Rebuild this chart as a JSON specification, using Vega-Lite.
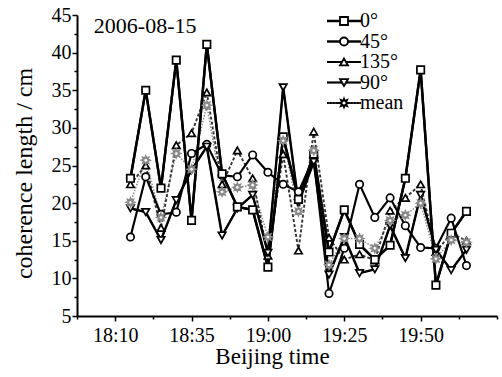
{
  "$schema": "https://vega.github.io/schema/vega-lite/v6.json",
  "width": 420,
  "height": 301,
  "autosize": {"type": "none"},
  "padding": {"left": 77, "top": 15, "right": 5, "bottom": 61},
  "background": "white",
  "config": {
    "view": {"stroke": null},
    "font": "Liberation Serif",
    "axis": {
      "labelFont": "Liberation Serif",
      "titleFont": "Liberation Serif",
      "labelColor": "black",
      "titleColor": "black",
      "domainColor": "black",
      "tickColor": "black",
      "titleFontWeight": "normal",
      "grid": false
    }
  },
  "datasets": {
    "coh": [
      {"t": "2006-08-15 18:15", "s": "mean", "v": 20.1},
      {"t": "2006-08-15 18:20", "s": "mean", "v": 25.7},
      {"t": "2006-08-15 18:25", "s": "mean", "v": 18.1},
      {"t": "2006-08-15 18:30", "s": "mean", "v": 26.6},
      {"t": "2006-08-15 18:35", "s": "mean", "v": 24.5},
      {"t": "2006-08-15 18:40", "s": "mean", "v": 33.0},
      {"t": "2006-08-15 18:45", "s": "mean", "v": 21.5},
      {"t": "2006-08-15 18:50", "s": "mean", "v": 22.1},
      {"t": "2006-08-15 18:55", "s": "mean", "v": 22.4},
      {"t": "2006-08-15 19:00", "s": "mean", "v": 15.5},
      {"t": "2006-08-15 19:05", "s": "mean", "v": 28.3},
      {"t": "2006-08-15 19:10", "s": "mean", "v": 18.9},
      {"t": "2006-08-15 19:15", "s": "mean", "v": 27.0},
      {"t": "2006-08-15 19:20", "s": "mean", "v": 11.8},
      {"t": "2006-08-15 19:25", "s": "mean", "v": 15.3},
      {"t": "2006-08-15 19:30", "s": "mean", "v": 15.3},
      {"t": "2006-08-15 19:35", "s": "mean", "v": 14.0},
      {"t": "2006-08-15 19:40", "s": "mean", "v": 17.7},
      {"t": "2006-08-15 19:45", "s": "mean", "v": 18.4},
      {"t": "2006-08-15 19:50", "s": "mean", "v": 20.0},
      {"t": "2006-08-15 19:55", "s": "mean", "v": 12.6},
      {"t": "2006-08-15 20:00", "s": "mean", "v": 15.1},
      {"t": "2006-08-15 20:05", "s": "mean", "v": 14.8},
      {"t": "2006-08-15 18:15", "s": "135°", "v": 22.5},
      {"t": "2006-08-15 18:20", "s": "135°", "v": 25.0},
      {"t": "2006-08-15 18:25", "s": "135°", "v": 16.7},
      {"t": "2006-08-15 18:30", "s": "135°", "v": 27.7},
      {"t": "2006-08-15 18:35", "s": "135°", "v": 29.3},
      {"t": "2006-08-15 18:40", "s": "135°", "v": 34.7},
      {"t": "2006-08-15 18:45", "s": "135°", "v": 22.5},
      {"t": "2006-08-15 18:50", "s": "135°", "v": 27.0},
      {"t": "2006-08-15 18:55", "s": "135°", "v": 23.3},
      {"t": "2006-08-15 19:00", "s": "135°", "v": 13.0},
      {"t": "2006-08-15 19:05", "s": "135°", "v": 26.5},
      {"t": "2006-08-15 19:10", "s": "135°", "v": 13.7},
      {"t": "2006-08-15 19:15", "s": "135°", "v": 29.5},
      {"t": "2006-08-15 19:20", "s": "135°", "v": 15.4},
      {"t": "2006-08-15 19:25", "s": "135°", "v": 12.5},
      {"t": "2006-08-15 19:30", "s": "135°", "v": 13.2},
      {"t": "2006-08-15 19:35", "s": "135°", "v": 12.4},
      {"t": "2006-08-15 19:40", "s": "135°", "v": 19.0},
      {"t": "2006-08-15 19:45", "s": "135°", "v": 20.7},
      {"t": "2006-08-15 19:50", "s": "135°", "v": 22.5},
      {"t": "2006-08-15 19:55", "s": "135°", "v": 13.5},
      {"t": "2006-08-15 20:00", "s": "135°", "v": 16.0},
      {"t": "2006-08-15 20:05", "s": "135°", "v": 15.0},
      {"t": "2006-08-15 18:15", "s": "45°", "v": 15.5},
      {"t": "2006-08-15 18:20", "s": "45°", "v": 23.5},
      {"t": "2006-08-15 18:25", "s": "45°", "v": 18.5},
      {"t": "2006-08-15 18:30", "s": "45°", "v": 18.8},
      {"t": "2006-08-15 18:35", "s": "45°", "v": 26.6},
      {"t": "2006-08-15 18:40", "s": "45°", "v": 27.8},
      {"t": "2006-08-15 18:45", "s": "45°", "v": 23.7},
      {"t": "2006-08-15 18:50", "s": "45°", "v": 23.5},
      {"t": "2006-08-15 18:55", "s": "45°", "v": 26.4},
      {"t": "2006-08-15 19:00", "s": "45°", "v": 24.1},
      {"t": "2006-08-15 19:05", "s": "45°", "v": 22.5},
      {"t": "2006-08-15 19:10", "s": "45°", "v": 21.5},
      {"t": "2006-08-15 19:15", "s": "45°", "v": 26.0},
      {"t": "2006-08-15 19:20", "s": "45°", "v": 8.0},
      {"t": "2006-08-15 19:25", "s": "45°", "v": 14.0},
      {"t": "2006-08-15 19:30", "s": "45°", "v": 22.5},
      {"t": "2006-08-15 19:35", "s": "45°", "v": 18.1},
      {"t": "2006-08-15 19:40", "s": "45°", "v": 20.7},
      {"t": "2006-08-15 19:45", "s": "45°", "v": 17.0},
      {"t": "2006-08-15 19:50", "s": "45°", "v": 14.1},
      {"t": "2006-08-15 19:55", "s": "45°", "v": 14.0},
      {"t": "2006-08-15 20:00", "s": "45°", "v": 18.0},
      {"t": "2006-08-15 20:05", "s": "45°", "v": 11.7},
      {"t": "2006-08-15 18:15", "s": "90°", "v": 19.3},
      {"t": "2006-08-15 18:20", "s": "90°", "v": 18.8},
      {"t": "2006-08-15 18:25", "s": "90°", "v": 15.1},
      {"t": "2006-08-15 18:30", "s": "90°", "v": 20.4},
      {"t": "2006-08-15 18:35", "s": "90°", "v": 24.4},
      {"t": "2006-08-15 18:40", "s": "90°", "v": 27.5},
      {"t": "2006-08-15 18:45", "s": "90°", "v": 15.7},
      {"t": "2006-08-15 18:50", "s": "90°", "v": 19.3},
      {"t": "2006-08-15 18:55", "s": "90°", "v": 21.1},
      {"t": "2006-08-15 19:00", "s": "90°", "v": 13.4},
      {"t": "2006-08-15 19:05", "s": "90°", "v": 35.4},
      {"t": "2006-08-15 19:10", "s": "90°", "v": 20.0},
      {"t": "2006-08-15 19:15", "s": "90°", "v": 25.5},
      {"t": "2006-08-15 19:20", "s": "90°", "v": 10.5},
      {"t": "2006-08-15 19:25", "s": "90°", "v": 15.5},
      {"t": "2006-08-15 19:30", "s": "90°", "v": 10.7},
      {"t": "2006-08-15 19:35", "s": "90°", "v": 11.2},
      {"t": "2006-08-15 19:40", "s": "90°", "v": 17.0},
      {"t": "2006-08-15 19:45", "s": "90°", "v": 12.7},
      {"t": "2006-08-15 19:50", "s": "90°", "v": 21.1},
      {"t": "2006-08-15 19:55", "s": "90°", "v": 13.8},
      {"t": "2006-08-15 20:00", "s": "90°", "v": 11.1},
      {"t": "2006-08-15 20:05", "s": "90°", "v": 13.8},
      {"t": "2006-08-15 18:15", "s": "0°", "v": 23.3},
      {"t": "2006-08-15 18:20", "s": "0°", "v": 35.0},
      {"t": "2006-08-15 18:25", "s": "0°", "v": 22.0},
      {"t": "2006-08-15 18:30", "s": "0°", "v": 39.0},
      {"t": "2006-08-15 18:35", "s": "0°", "v": 17.7},
      {"t": "2006-08-15 18:40", "s": "0°", "v": 41.1},
      {"t": "2006-08-15 18:45", "s": "0°", "v": 23.9},
      {"t": "2006-08-15 18:50", "s": "0°", "v": 19.5},
      {"t": "2006-08-15 18:55", "s": "0°", "v": 19.1},
      {"t": "2006-08-15 19:00", "s": "0°", "v": 11.5},
      {"t": "2006-08-15 19:05", "s": "0°", "v": 28.8},
      {"t": "2006-08-15 19:10", "s": "0°", "v": 20.5},
      {"t": "2006-08-15 19:15", "s": "0°", "v": 26.5},
      {"t": "2006-08-15 19:20", "s": "0°", "v": 13.5},
      {"t": "2006-08-15 19:25", "s": "0°", "v": 19.1},
      {"t": "2006-08-15 19:30", "s": "0°", "v": 14.5},
      {"t": "2006-08-15 19:35", "s": "0°", "v": 12.5},
      {"t": "2006-08-15 19:40", "s": "0°", "v": 14.4},
      {"t": "2006-08-15 19:45", "s": "0°", "v": 23.3},
      {"t": "2006-08-15 19:50", "s": "0°", "v": 37.7},
      {"t": "2006-08-15 19:55", "s": "0°", "v": 9.1},
      {"t": "2006-08-15 20:00", "s": "0°", "v": 16.0},
      {"t": "2006-08-15 20:05", "s": "0°", "v": 18.9}
    ],
    "note": [{"label": "2006-08-15"}]
  },
  "data": {"name": "coh"},
  "resolve": {"axis": {"x": "independent", "y": "independent"}},
  "layer": [
    {
      "mark": {"type": "line"},
      "encoding": {
        "x": {
          "field": "t", "type": "temporal",
          "scale": {"domain": [
            {"year": 2006, "month": 8, "date": 15, "hours": 17, "minutes": 57, "seconds": 30},
            {"year": 2006, "month": 8, "date": 15, "hours": 20, "minutes": 15}
          ], "nice": false},
          "axis": {
            "orient": "bottom",
            "values": [
              {"year": 2006, "month": 8, "date": 15, "hours": 18, "minutes": 10},
              {"year": 2006, "month": 8, "date": 15, "hours": 18, "minutes": 35},
              {"year": 2006, "month": 8, "date": 15, "hours": 19, "minutes": 0},
              {"year": 2006, "month": 8, "date": 15, "hours": 19, "minutes": 25},
              {"year": 2006, "month": 8, "date": 15, "hours": 19, "minutes": 50}
            ],
            "format": "%H:%M",
            "labelFontSize": 20,
            "labelPadding": 4,
            "tickSize": 5,
            "tickWidth": 1.5,
            "domainWidth": 2,
            "title": "Beijing time",
            "titleFontSize": 23,
            "titlePadding": 0,
            "titleX": 195
          }
        },
        "y": {
          "field": "v", "type": "quantitative",
          "scale": {"domain": [5, 45], "nice": false, "zero": false},
          "axis": {
            "orient": "left",
            "values": [5, 10, 15, 20, 25, 30, 35, 40, 45],
            "labelFontSize": 20,
            "labelPadding": 1,
            "tickSize": 5,
            "tickWidth": 1.5,
            "domainWidth": 2,
            "title": "coherence length / cm",
            "titleFontSize": 24,
            "titlePadding": 15,
            "titleY": 158
          }
        },
        "color": {
          "field": "s", "type": "nominal",
          "sort": ["0°", "45°", "135°", "90°", "mean"],
          "scale": {"range": ["#000000", "#000000", "#333333", "#000000", "#888888"]},
          "legend": {"orient": "none", "legendX": 257, "legendY": -4, "title": null, "padding": 0, "labelFont": "Liberation Serif", "labelFontSize": 20, "labelOpacity": 0, "labelOffset": 6, "rowPadding": 0.5, "symbolType": "M-4.25,0H4.25", "symbolSize": 64, "symbolStrokeColor": "black"}
        },
        "strokeWidth": {
          "field": "s", "type": "nominal",
          "sort": ["0°", "45°", "135°", "90°", "mean"],
          "scale": {"range": [2.4, 1.4, 1.1, 2.4, 1.1]},
          "legend": {"orient": "none", "legendX": 257, "legendY": -4, "title": null, "padding": 0, "labelFont": "Liberation Serif", "labelFontSize": 20, "labelOpacity": 0, "labelOffset": 6, "rowPadding": 0.5, "symbolType": "M-4.25,0H4.25", "symbolSize": 64, "symbolStrokeColor": "black"}
        },
        "strokeDash": {
          "field": "s", "type": "nominal",
          "sort": ["0°", "45°", "135°", "90°", "mean"],
          "scale": {"range": [[1, 0], [1, 0], [3, 2], [1, 0], [1.5, 1.5]]},
          "legend": {"orient": "none", "legendX": 257, "legendY": -4, "title": null, "padding": 0, "labelFont": "Liberation Serif", "labelFontSize": 20, "labelOpacity": 0, "labelOffset": 6, "rowPadding": 0.5, "symbolType": "M-4.25,0H4.25", "symbolSize": 64, "symbolStrokeColor": "black"}
        }
      }
    },
    {
      "transform": [{"filter": "datum.s === '90°'"}],
      "mark": {"type": "line", "stroke": "#000000", "strokeWidth": 2.4},
      "encoding": {
        "x": {"field": "t", "type": "temporal", "axis": null},
        "y": {"field": "v", "type": "quantitative", "axis": null}
      }
    },
    {
      "transform": [{"filter": "datum.s === '0°'"}],
      "mark": {"type": "line", "stroke": "#000000", "strokeWidth": 2.4},
      "encoding": {
        "x": {"field": "t", "type": "temporal", "axis": null},
        "y": {"field": "v", "type": "quantitative", "axis": null}
      }
    },
    {
      "transform": [{"filter": "datum.s !== 'mean'"}],
      "mark": {"type": "point", "filled": false, "fill": "white", "stroke": "black", "size": 55, "strokeWidth": 1.7, "opacity": 1},
      "encoding": {
        "x": {"field": "t", "type": "temporal", "axis": null},
        "y": {"field": "v", "type": "quantitative", "axis": null},
        "shape": {
          "field": "s", "type": "nominal",
          "scale": {
            "domain": ["0°", "45°", "135°", "90°", "mean"],
            "range": ["square", "circle", "triangle-up", "triangle-down", "M1.1,0L0.554,0.23L0.778,0.778L0.23,0.554L0,1.1L-0.23,0.554L-0.778,0.778L-0.554,0.23L-1.1,0L-0.554,-0.23L-0.778,-0.778L-0.23,-0.554L0,-1.1L0.23,-0.554L0.778,-0.778L0.554,-0.23Z"]
          },
          "legend": {"orient": "none", "legendX": 257, "legendY": -4, "title": null, "padding": 0, "labelFont": "Liberation Serif", "labelFontSize": 20, "labelColor": "black", "labelOffset": 6, "rowPadding": 0.5, "symbolSize": 64, "symbolStrokeWidth": 1.8, "symbolFillColor": "white"}
        }
      }
    },
    {
      "transform": [{"filter": "datum.s === 'mean'"}],
      "mark": {"type": "point", "filled": false, "fill": "white", "stroke": "#888888", "size": 55, "strokeWidth": 1.7, "opacity": 1},
      "encoding": {
        "x": {"field": "t", "type": "temporal", "axis": null},
        "y": {"field": "v", "type": "quantitative", "axis": null},
        "shape": {
          "field": "s", "type": "nominal",
          "legend": {"orient": "none", "legendX": 257, "legendY": -4, "title": null, "padding": 0, "labelFont": "Liberation Serif", "labelFontSize": 20, "labelColor": "black", "labelOffset": 6, "rowPadding": 0.5, "symbolSize": 64, "symbolStrokeWidth": 1.8, "symbolFillColor": "white"}
        }
      }
    },
    {
      "mark": {"type": "point", "opacity": 0},
      "encoding": {
        "x": {
          "field": "t", "type": "temporal",
          "axis": {
            "orient": "bottom",
            "values": [
              {"year": 2006, "month": 8, "date": 15, "hours": 17, "minutes": 57, "seconds": 30},
              {"year": 2006, "month": 8, "date": 15, "hours": 18, "minutes": 22, "seconds": 30},
              {"year": 2006, "month": 8, "date": 15, "hours": 18, "minutes": 47, "seconds": 30},
              {"year": 2006, "month": 8, "date": 15, "hours": 19, "minutes": 12, "seconds": 30},
              {"year": 2006, "month": 8, "date": 15, "hours": 19, "minutes": 37, "seconds": 30},
              {"year": 2006, "month": 8, "date": 15, "hours": 20, "minutes": 2, "seconds": 30},
              {"year": 2006, "month": 8, "date": 15, "hours": 20, "minutes": 15}
            ],
            "labels": false,
            "domain": false,
            "tickSize": 3,
            "tickWidth": 1.5,
            "title": null
          }
        },
        "y": {
          "field": "v", "type": "quantitative",
          "axis": {
            "orient": "left",
            "values": [7.5, 12.5, 17.5, 22.5, 27.5, 32.5, 37.5, 42.5],
            "labels": false,
            "domain": false,
            "tickSize": 3,
            "tickWidth": 1.5,
            "title": null
          }
        }
      }
    },
    {
      "data": {"name": "note"},
      "mark": {"type": "text", "font": "Liberation Serif", "fontSize": 22, "align": "left", "baseline": "middle", "color": "black"},
      "encoding": {
        "x": {"datum": {"year": 2006, "month": 8, "date": 15, "hours": 18, "minutes": 3}, "type": "temporal", "axis": null},
        "y": {"datum": 43.6, "type": "quantitative", "axis": null},
        "text": {"field": "label", "type": "nominal"}
      }
    }
  ]
}
